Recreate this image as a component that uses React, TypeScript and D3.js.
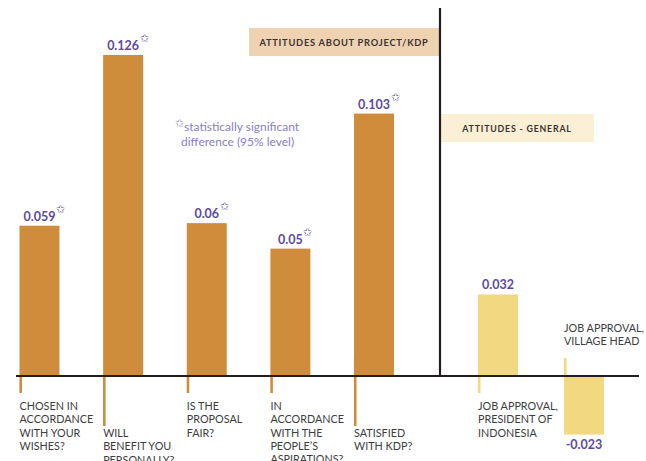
import React from "react";
import * as d3 from "d3";

const projectCategories = [
  ["CHOSEN IN", "ACCORDANCE", "WITH YOUR", "WISHES?"],
  ["WILL", "BENEFIT YOU", "PERSONALLY?"],
  ["IS THE", "PROPOSAL", "FAIR?"],
  ["IN", "ACCORDANCE", "WITH THE", "PEOPLE’S", "ASPIRATIONS?"],
  ["SATISFIED", "WITH KDP?"],
];
const projectValues = [0.059, 0.126, 0.06, 0.05, 0.103];
const projectSignificant = [true, true, true, true, true];

const generalCategories = [
  ["JOB APPROVAL,", "PRESIDENT OF", "INDONESIA"],
  ["JOB APPROVAL,", "VILLAGE HEAD"],
];
const generalValues = [0.032, -0.023];
const generalSignificant = [false, false];

const valueLabels = ["0.059", "0.126", "0.06", "0.05", "0.103", "0.032", "-0.023"];

const headerProject = "ATTITUDES ABOUT PROJECT/KDP";
const headerGeneral = "ATTITUDES - GENERAL";
const noteLines = ["statistically significant", "difference (95% level)"];

// layout (not data): label placement per bar: 0 = normal, 1 = dropped, -1 = above baseline
const projectLabelMode = [0, 1, 0, 0, 1];
const generalLabelMode = [0, -1];

const W = 646;
const H = 461;
const BASE = 376;
const ORANGE = "#cf8c3a";
const YELLOW = "#f2d880";
const PURPLE = "#5c4a9c";
const NOTE = "#8a80c2";
const TEXT = "#3d3d3d";
const FONT = "Lato, 'Open Sans', sans-serif";

export default function App() {
  const y = d3.scaleLinear().domain([0, 0.126]).range([BASE, 55]);

  const xLeft = d3
    .scaleBand<number>()
    .domain(d3.range(projectValues.length))
    .range([19.5, 394])
    .paddingInner(0.522)
    .paddingOuter(0);
  const xRight = d3
    .scaleBand<number>()
    .domain(d3.range(generalValues.length))
    .range([478, 604])
    .paddingInner(0.535)
    .paddingOuter(0);

  type Bar = {
    x: number;
    w: number;
    v: number;
    label: string[];
    sig: boolean;
    color: string;
    mode: number;
    text: string;
  };
  const bars: Bar[] = [
    ...projectValues.map((v, i) => ({
      x: xLeft(i)!,
      w: xLeft.bandwidth(),
      v,
      label: projectCategories[i],
      sig: projectSignificant[i],
      color: ORANGE,
      mode: projectLabelMode[i],
      text: valueLabels[i],
    })),
    ...generalValues.map((v, i) => ({
      x: xRight(i)!,
      w: xRight.bandwidth(),
      v,
      label: generalCategories[i],
      sig: generalSignificant[i],
      color: YELLOW,
      mode: generalLabelMode[i],
      text: valueLabels[projectValues.length + i],
    })),
  ];

  const lineH = 13.3;

  return (
    <svg
      width={W}
      height={H}
      style={{ position: "absolute", left: 0, top: 0, background: "#fff" }}
      fontFamily={FONT}
    >
      {/* header boxes */}
      <rect x={249} y={28} width={190} height={28} fill="#efd2b2" />
      <text
        x={344}
        y={45.5}
        textAnchor="middle"
        fontSize={9.3}
        fontWeight={700}
        letterSpacing={0.75}
        fill="#3a3330"
      >
        {headerProject}
      </text>
      <rect x={441} y={114} width={153} height={28} fill="#fbefd5" />
      <text
        x={517}
        y={131.5}
        textAnchor="middle"
        fontSize={8.8}
        fontWeight={700}
        letterSpacing={0.8}
        fill="#3a3330"
      >
        {headerGeneral}
      </text>

      {/* note */}
      <text x={175} y={131} fontSize={12} fill={NOTE}>
        <tspan fontSize={11} dy={-4}>✩</tspan>
        <tspan dy={4}>{noteLines[0]}</tspan>
      </text>
      <text x={181} y={146} fontSize={12} fill={NOTE}>
        {noteLines[1]}
      </text>

      {/* bars */}
      {bars.map((b, i) => {
        const top = Math.min(y(b.v), y(0));
        const h = Math.abs(y(b.v) - y(0));
        return <rect key={"b" + i} x={b.x} y={top} width={b.w} height={h} fill={b.color} />;
      })}

      {/* ticks */}
      {bars.map((b, i) => {
        let y1 = BASE;
        let y2 = BASE + 17;
        if (b.mode === 1) y2 = BASE + 50;
        if (b.mode === 1 && i === 4) y1 = BASE - 19;
        if (b.mode === -1) {
          y1 = BASE - 18;
          y2 = BASE;
        }
        return (
          <line
            key={"t" + i}
            x1={b.x + 1.2}
            x2={b.x + 1.2}
            y1={y1}
            y2={y2}
            stroke={b.color}
            strokeWidth={2.6}
          />
        );
      })}

      {/* baseline and divider */}
      <line x1={16} x2={639} y1={BASE} y2={BASE} stroke="#231f20" strokeWidth={2.2} />
      <line x1={440} x2={440} y1={8} y2={BASE} stroke="#231f20" strokeWidth={2.2} />

      {/* category labels */}
      {bars.map((b, i) => {
        let y0 = 410;
        if (b.mode === 1) y0 = 437;
        if (b.mode === -1) y0 = BASE - 44;
        return (
          <text key={"l" + i} x={b.x} y={y0} fontSize={10.8} fill={TEXT}>
            {b.label.map((l, j) => (
              <tspan key={j} x={b.x} y={y0 + j * lineH}>
                {l}
              </tspan>
            ))}
          </text>
        );
      })}

      {/* value labels */}
      {bars.map((b, i) => {
        const cx = b.x + b.w / 2;
        const ty = b.v >= 0 ? y(b.v) - 5 : y(b.v) + 14;
        return (
          <text
            key={"v" + i}
            x={cx}
            y={ty}
            textAnchor="middle"
            fontSize={12.5}
            fontWeight={700}
            fill={PURPLE}
          >
            {b.text}
          </text>
        );
      })}
      {bars.map((b, i) =>
        b.sig ? (
          <text
            key={"s" + i}
            x={b.x + b.w / 2 + (b.text.length * 7) / 2 + 3.5}
            y={y(b.v) - 13}
            textAnchor="middle"
            fontSize={11}
            fill={PURPLE}
          >
            ✩
          </text>
        ) : null
      )}
    </svg>
  );
}
